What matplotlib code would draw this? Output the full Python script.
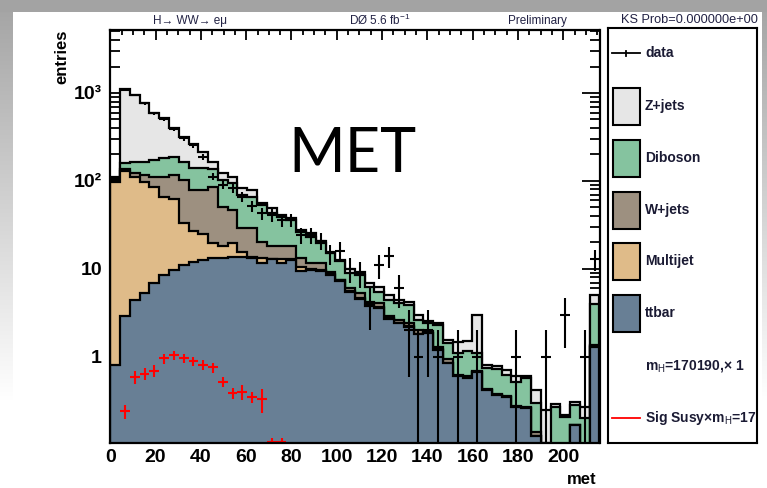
import numpy as np
import matplotlib
matplotlib.use('Agg')
import matplotlib.pyplot as plt
from matplotlib.patches import Rectangle
from matplotlib.lines import Line2D
from matplotlib.ticker import FixedLocator, FixedFormatter, MultipleLocator, LogLocator, NullFormatter

plt.rcParams['font.family'] = ['Liberation Sans', 'DejaVu Sans']
plt.rcParams['mathtext.fontset'] = 'custom'
plt.rcParams['mathtext.rm'] = 'Liberation Sans'
plt.rcParams['mathtext.it'] = 'Liberation Sans'
plt.rcParams['mathtext.bf'] = 'Liberation Sans:bold'

# missing ET histogram: 50 bins from 0 to 216
edges = np.linspace(0, 216, 51)

ttbar = [0.8, 2.9, 4.4, 5.3, 6.9, 8.5, 9.7, 11.0, 12.0, 12.7,
         13.2, 13.4, 13.8, 13.5, 13.2, 11.6, 12.9, 11.6, 12.5, 9.5,
         9.7, 9.5, 8.6, 7.2, 5.4, 4.6, 3.8, 3.6, 2.7, 2.4,
         2.2, 1.8, 1.85, 1.2, 0.85, 0.6, 0.57, 0.67, 0.42, 0.37,
         0.35, 0.27, 0.26, 0.125, 0.09, 0.09, 0.09, 0.17, 0.09, 1.3]
multijet = [96.2, 127.1, 107.6, 92.7, 79.1, 57.5, 53.3, 22.0, 15.0, 12.3,
            6.4, 4.6, 5.9, 2.2, 0.6, 1.8, 0.2, 1.4, 0.3, 1.1,
            0.2, 0.2, 0.2, 0.2, 0.2, 0.1, 0.1, 0.1, 0.05, 0.05,
            0.05, 0.02, 0.02, 0.02, 0.01, 0.01, 0.01, 0.01, 0.0, 0.0,
            0.0, 0.0, 0.0, 0.001, 0.0, 0.0, 0.0, 0.0, 0.0, 0.02]
wjets = [3.0, 5.0, 10.0, 19.0, 26.0, 46.0, 54.0, 70.0, 52.0, 54.0,
         66.4, 33.0, 27.3, 13.3, 15.2, 7.1, 5.3, 5.4, 5.6, 2.6,
         1.7, 1.9, 0.5, 0.1, 0.4, 0.6, 0.35, 0.4, 0.15, 0.18,
         0.2, 0.18, 0.08, 0.06, 0.09, 0.02, 0.02, 0.02, 0.01, 0.01,
         0.01, 0.01, 0.01, 0.014, 0.0, 0.0, 0.0, 0.0, 0.0, 0.06]
diboson = [8.0, 25.0, 44.0, 49.0, 60.0, 69.0, 72.0, 63.0, 61.0, 61.0,
           49.0, 52.0, 47.0, 41.0, 37.0, 32.5, 24.6, 20.6, 17.6, 13.4,
           11.7, 8.1, 5.7, 4.7, 3.0, 3.2, 2.05, 1.4, 1.55, 1.47,
           1.45, 0.63, 0.46, 1.02, 0.48, 0.47, 0.58, 0.40, 0.31, 0.34,
           0.26, 0.24, 0.31, 0.16, 0.015, 0.18, 0.116, 0.115, 0.11, 2.62]
zjets = [2.0, 950.0, 784.0, 598.0, 416.0, 335.0, 208.0, 153.0, 121.0, 75.0,
         31.0, 19.0, 16.0, 13.0, 12.0, 3.0, 6.0, 2.0, 2.0, 1.4,
         2.2, 1.3, 0.7, 0.5, 1.0, 0.8, 0.7, 0.8, 0.62, 0.35,
         0.35, 0.37, 0.14, 0.11, 0.14, 0.37, 0.35, 1.9, 0.07, 0.06,
         0.09, 0.08, 0.03, 0.12, 0.145, 0.02, 0.014, 0.025, 0.07, 1.1]

data = [105, 1080, 950, 760, 590, 500, 390, 305, 256, 189,
        112, 90, 83, 66, 52, 43, 41, 36, 36, 24,
        24, 21, 15, 16, 10, 9, 4, 11, 14, 6,
        2, 1, 2, 1, 0, 1, 0, 1, 0, 0,
        0, 1, 0, 0, 1, 0, 3, 0, 1, 13]

signal = [0, 0.24, 0.59, 0.64, 0.70, 0.96, 1.05, 0.97, 0.89, 0.81,
          0.76, 0.52, 0.39, 0.40, 0.35, 0.33, 0.108, 0.107] + [0] * 32
signal_err = [0, 0.045, 0.10, 0.10, 0.11, 0.12, 0.12, 0.12, 0.11, 0.10,
              0.10, 0.07, 0.055, 0.08, 0.05, 0.10, 0.012, 0.012] + [0] * 32

components = ['ttbar', 'Multijet', 'W+jets', 'Diboson', 'Z+jets']
colors = ['#687f95', '#dfbb89', '#9d9080', '#85c39f', '#e6e6e6']

W, H = 767, 488


def px(x, y):
    # pixel position -> figure fraction
    return x / W, 1 - y / H


fig = plt.figure(figsize=(W / 100, H / 100), dpi=100)

# slide background: grey band on top, fading grey strip on the left
bg = np.ones((H, W, 3))
bg[:12, :, :] = 0.64
fade = np.clip(0.64 + 0.36 * np.arange(H) / 400.0, 0, 1)
bg[12:, :13, :] = fade[12:, None, None]
bg[12:, W - 5:, :] = fade[12:, None, None]
bax = fig.add_axes([0, 0, 1, 1], zorder=-5)
bax.imshow(bg, aspect='auto', interpolation='bilinear')
bax.axis('off')

l, b = px(110.3, 443)
r, t = px(599.5, 30)
ax = fig.add_axes([l, b, r - l, t - b])
ax.set_yscale('log')

# stacked histogram, drawn from the full sum down to ttbar
cum = np.cumsum(np.array([ttbar, multijet, wjets, diboson, zjets]), axis=0)
for i in range(4, -1, -1):
    ax.stairs(cum[i], edges, baseline=0.01, fill=True, facecolor=colors[i],
              edgecolor='black', linewidth=1.6, zorder=2 + (4 - i))

centers = 0.5 * (edges[:-1] + edges[1:])
half = 0.5 * (edges[1] - edges[0])

n = np.array(data, dtype=float)
m = n > 0
lo = np.minimum(np.sqrt(n[m]), n[m] - 0.05)
hi = np.sqrt(n[m])
ax.errorbar(centers[m], n[m], xerr=half, yerr=[lo, hi], fmt='none',
            ecolor='black', elinewidth=1.5, capsize=0, zorder=10)

s = np.array(signal)
se = np.array(signal_err)
ms = s > 0
ax.errorbar(centers[ms], s[ms], xerr=half, yerr=se[ms], fmt='none',
            ecolor='red', elinewidth=1.5, capsize=0, zorder=11)

ax.set_xlim(0, 216)
ax.set_ylim(0.105, 5200)

ax.xaxis.set_major_locator(MultipleLocator(20))
ax.xaxis.set_minor_locator(MultipleLocator(5))
ax.yaxis.set_major_locator(FixedLocator([1, 10, 100, 1000]))
ax.yaxis.set_major_formatter(FixedFormatter(['1', '10', '10²', '10³']))
ax.yaxis.set_minor_locator(LogLocator(base=10, subs=np.arange(2, 10)))
ax.yaxis.set_minor_formatter(NullFormatter())

ax.tick_params(axis='both', which='both', direction='in', top=True, right=True,
               width=1.3, colors='black')
ax.tick_params(axis='x', which='major', length=7.5, labelsize=14, pad=4)
ax.tick_params(axis='x', which='minor', length=3.8)
ax.tick_params(axis='y', which='major', length=13, labelsize=14, pad=6)
ax.tick_params(axis='y', which='minor', length=7)
for lab in ax.get_xticklabels() + ax.get_yticklabels():
    lab.set_fontweight('bold')
for sp in ax.spines.values():
    sp.set_linewidth(1.6)
    sp.set_zorder(20)

fig.text(*px(62, 30), 'entries', rotation=90, ha='center', va='top',
         fontsize=12, fontweight='bold')
fig.text(*px(597, 480), 'met', ha='right', va='center',
         fontsize=12, fontweight='bold')

fig.text(*px(352, 155), 'MET', ha='center', va='center', fontsize=44,
         family=['Lato', 'DejaVu Sans'], color='black')

title_kw = dict(va='center', fontsize=8.5, color='#222244')
fig.text(*px(190, 21), 'H→ WW→ eμ', ha='center', **title_kw)
fig.text(*px(380, 20), 'DØ 5.6 fb$^{-1}$', ha='center', **title_kw)
fig.text(*px(537, 21), 'Preliminary', ha='center', **title_kw)
fig.text(*px(689, 20), 'KS Prob=0.000000e+00', ha='center', va='center',
         fontsize=9.2, color='#222244')

# legend box
ll, lb = px(608, 443)
lr, lt = px(757, 28)
lax = fig.add_axes([ll, lb, lr - ll, lt - lb])
lax.set_xlim(608, 757)
lax.set_ylim(443, 28)
lax.set_xticks([])
lax.set_yticks([])
for sp in lax.spines.values():
    sp.set_linewidth(1.5)

leg_kw = dict(va='center', ha='left', fontsize=10, fontweight='bold',
              color='#1a1a33', clip_on=True)
lax.add_line(Line2D([612, 640], [53, 53], color='black', lw=1.3))
lax.add_line(Line2D([626, 626], [51, 56], color='black', lw=1.3))
lax.text(645, 53, 'data', **leg_kw)

box_tops = [295, 243, 192, 140, 88]
for i in range(5):
    lax.add_patch(Rectangle((613, box_tops[i]), 27, 37, facecolor=colors[i],
                            edgecolor='black', lw=1.5))
    lax.text(645, box_tops[i] + 18.5, components[i], **leg_kw)

lax.text(645, 366, 'm$_H$=170190,× 1', **leg_kw)
lax.add_line(Line2D([612, 640], [418, 418], color='red', lw=1.3))
lax.text(645, 418, 'Sig Susy×m$_H$=17', **leg_kw)

fig.savefig('out.png', dpi=100)
